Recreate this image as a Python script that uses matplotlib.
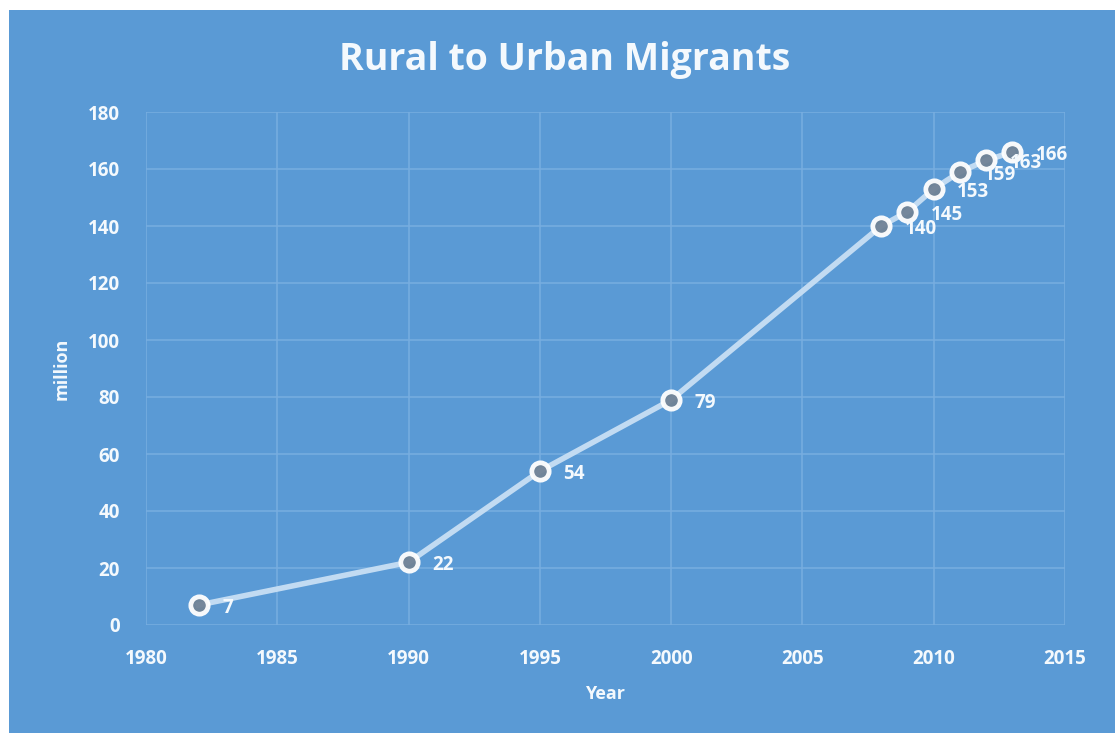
import matplotlib.pyplot as plt
from matplotlib.patches import Rectangle

years = [1982, 1990, 1995, 2000, 2008, 2009, 2010, 2011, 2012, 2013]
migrants = [7, 22, 54, 79, 140, 145, 153, 159, 163, 166]
x_ticks = [1980, 1985, 1990, 1995, 2000, 2005, 2010, 2015]
y_ticks = [0, 20, 40, 60, 80, 100, 120, 140, 160, 180]

bg = '#5A9AD5'
grid_c = '#78AEE0'
txt_c = '#F4F9FD'

plt.rcParams['font.family'] = ['Open Sans', 'DejaVu Sans']

fig = plt.figure(figsize=(11.2, 7.36), dpi=100)
fig.patch.set_facecolor('white')
fig.add_artist(Rectangle((9/1120, 3/736), (1115-9)/1120, (733-10)/736,
                         transform=fig.transFigure, facecolor=bg, edgecolor='none', zorder=0))

ax = fig.add_axes([146/1120, (736-625)/736, (1065-146)/1120, (625-112)/736])
ax.set_facecolor('none')
ax.set_xlim(1980, 2015)
ax.set_ylim(0, 180)
ax.set_xticks(x_ticks)
ax.set_yticks(y_ticks)
ax.grid(True, color=grid_c, linewidth=1.1)
ax.set_axisbelow(True)
for s in ax.spines.values():
    s.set_visible(False)
ax.tick_params(length=0, colors=txt_c, labelsize=13.5)
ax.tick_params(axis='x', pad=17)
ax.tick_params(axis='y', pad=19)
for lab in ax.get_xticklabels() + ax.get_yticklabels():
    lab.set_fontweight('bold')

ax.plot(years, migrants, color='#C8DFF4', linewidth=4, alpha=0.95,
        marker='o', markersize=12.5, markerfacecolor='#718396',
        markeredgecolor='white', markeredgewidth=3.4, zorder=3)

for x, y in zip(years, migrants):
    ax.annotate(str(y), (x, y), xytext=(17, -2), textcoords='offset points',
                color=txt_c, fontsize=13.5, fontweight='bold', va='center', ha='left', zorder=4)

ax.set_xlabel('Year', color=txt_c, fontsize=13, fontweight='bold', labelpad=12)
ax.set_ylabel('million', color=txt_c, fontsize=13, fontweight='bold', labelpad=12)
fig.text(565/1120, 1 - 60/736, 'Rural to Urban Migrants', color=txt_c, fontsize=27,
         fontweight='bold', ha='center', va='center')

fig.savefig('out.png', dpi=100)
